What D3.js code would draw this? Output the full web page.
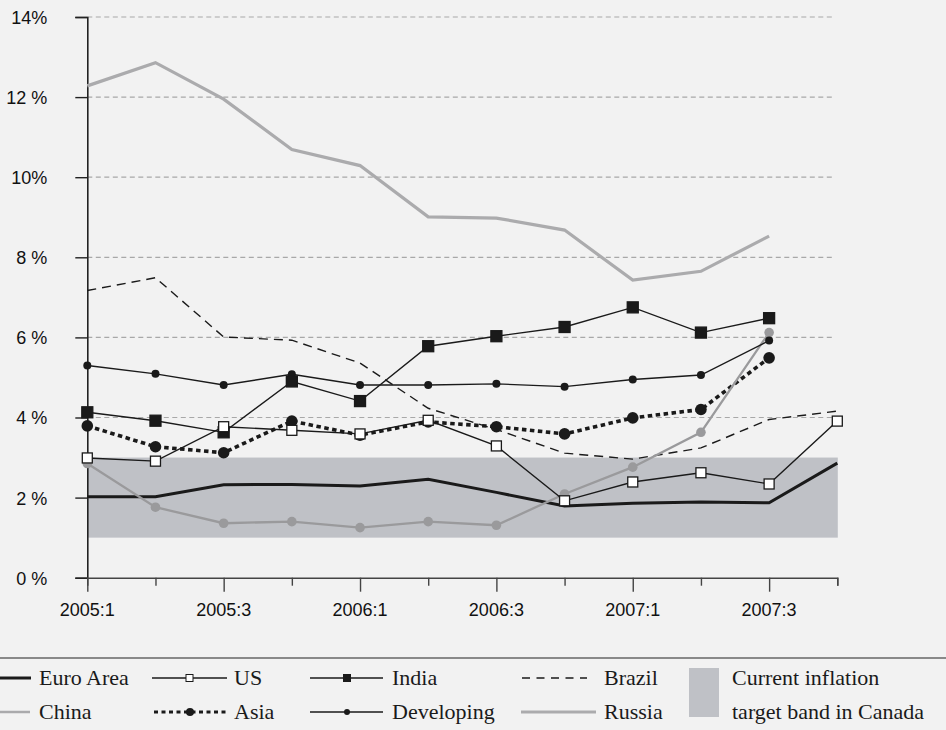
<!DOCTYPE html>
<html><head><meta charset="utf-8">
<script src="https://cdn.jsdelivr.net/npm/d3@7"></script>
<style>body{margin:0;background:#f2f2f2;} svg{display:block;}</style>
</head><body>
<svg id="c" width="946" height="730"></svg>
<script>
const quarters = ["2005:1","2005:2","2005:3","2005:4","2006:1","2006:2","2006:3","2006:4","2007:1","2007:2","2007:3","2007:4"];
const xTickLabels = ["2005:1","2005:3","2006:1","2006:3","2007:1","2007:3"];
const yTicks = [0,2,4,6,8,10,12,14];
const yTickLabels = ["0 %","2 %","4 %","6 %","8 %","10%","12 %","14%"];
const gridValues = [4,6,8,10,12,14];
const band = [1,3];

const euroArea   = [2.02,2.02,2.32,2.33,2.29,2.46,2.13,1.79,1.86,1.89,1.87,2.86];
const us         = [2.99,2.91,3.77,3.68,3.59,3.93,3.29,1.92,2.39,2.62,2.34,3.91];
const india      = [4.13,3.92,3.63,4.90,4.41,5.78,6.03,6.26,6.75,6.12,6.48,null];
const brazil     = [7.17,7.49,6.01,5.93,5.36,4.23,3.70,3.11,2.96,3.24,3.95,4.16];
const china      = [2.85,1.76,1.36,1.40,1.25,1.40,1.31,2.09,2.76,3.63,6.12,null];
const asia       = [3.79,3.27,3.12,3.91,3.56,3.89,3.77,3.59,3.99,4.20,5.49,null];
const developing = [5.30,5.09,4.81,5.08,4.81,4.81,4.84,4.77,4.95,5.06,5.92,null];
const russia     = [12.28,12.86,11.95,10.69,10.29,9.01,8.98,8.68,7.43,7.65,8.53,null];

const svg = d3.select("#c");
const x = d3.scalePoint().domain(quarters).range([87.3,837.3]);
const y = d3.scaleLinear().domain([0,14]).range([577.7,17]);

// band
svg.append("rect").attr("x",x(quarters[0])).attr("width",x(quarters[11])-x(quarters[0])+0.5)
  .attr("y",y(band[1])).attr("height",y(band[0])-y(band[1])).attr("fill","#bfc1c6");

// grid
svg.append("g").selectAll("line").data(gridValues).join("line")
  .attr("x1",x(quarters[0])).attr("x2",832).attr("y1",d=>y(d)).attr("y2",d=>y(d))
  .attr("stroke","#a8a8a8").attr("stroke-width",1.2).attr("stroke-dasharray","5,3.5");

// y axis
const yAx = svg.append("g").attr("transform",`translate(${x(quarters[0])},0)`)
  .call(d3.axisLeft(y).tickValues(yTicks).tickSize(12).tickFormat((d,i)=>yTickLabels[i]).tickPadding(28));
yAx.select(".domain").attr("stroke","#222").attr("stroke-width",1.6);
yAx.selectAll(".tick line").attr("stroke","#222").attr("stroke-width",1.4);
yAx.selectAll(".tick text").attr("font-family","Liberation Sans, Arial, sans-serif").attr("font-size",18).attr("fill","#111").attr("x",-40).attr("dy","0.36em");

// x axis
const xAx = svg.append("g").attr("transform",`translate(0,${y(0)})`)
  .call(d3.axisBottom(x).tickSize(8).tickFormat(""));
xAx.select(".domain").attr("stroke","#444").attr("stroke-width",1.4);
xAx.selectAll(".tick line").attr("stroke","#444").attr("stroke-width",1.4)
  .attr("y2",(d)=>xTickLabels.includes(d)?14:8);
svg.append("g").selectAll("text").data(xTickLabels).join("text")
  .attr("x",d=>x(d)).attr("y",615.5).attr("text-anchor","middle")
  .attr("font-family","Liberation Sans, Arial, sans-serif").attr("font-size",18).attr("fill","#111").text(d=>d);

function pts(arr){return quarters.map((q,i)=>({q,v:arr[i]})).filter(d=>d.v!=null);}
const lineLin = d3.line().x(d=>x(d.q)).y(d=>y(d.v));

function drawLine(arr,opts){
  svg.append("path").datum(pts(arr)).attr("d",lineLin)
    .attr("fill","none").attr("stroke",opts.color).attr("stroke-width",opts.w)
    .attr("stroke-dasharray",opts.dash||null).attr("stroke-linejoin","miter");
}
function drawDots(arr,r,fill){
  svg.append("g").selectAll("circle").data(pts(arr)).join("circle")
    .attr("cx",d=>x(d.q)).attr("cy",d=>y(d.v)).attr("r",r).attr("fill",fill);
}
function drawSquares(arr,s,fill,stroke){
  svg.append("g").selectAll("rect").data(pts(arr)).join("rect")
    .attr("x",d=>x(d.q)-s/2).attr("y",d=>y(d.v)-s/2).attr("width",s).attr("height",s)
    .attr("fill",fill).attr("stroke",stroke).attr("stroke-width",1.3);
}

drawLine(russia,{color:"#ababad",w:3.2});
drawLine(brazil,{color:"#1a1a1a",w:1.4,dash:"9,6"});
drawLine(euroArea,{color:"#1a1a1a",w:3});
drawLine(asia,{color:"#1a1a1a",w:3.6,dash:"4.5,3.5"});
drawDots(asia,5.8,"#1a1a1a");
drawLine(china,{color:"#9a9a9c",w:2.3});
drawDots(china,4.8,"#9a9a9c");
drawLine(developing,{color:"#1a1a1a",w:1.4});
drawDots(developing,4,"#1a1a1a");
drawLine(india,{color:"#1a1a1a",w:1.4});
drawSquares(india,11,"#1a1a1a","#1a1a1a");
drawLine(us,{color:"#1a1a1a",w:1.4});
drawSquares(us,10,"#ffffff","#1a1a1a");

// legend
svg.append("line").attr("x1",0).attr("x2",946).attr("y1",658).attr("y2",658).attr("stroke","#666").attr("stroke-width",1.6);
const lg = svg.append("g").attr("font-family","Liberation Serif, Times New Roman, serif").attr("font-size",22).attr("fill","#1a1a1a");
const r1=678, r2=712;
function lgLine(x1,x2,yy,c,w,dash){lg.append("line").attr("x1",x1).attr("x2",x2).attr("y1",yy).attr("y2",yy).attr("stroke",c).attr("stroke-width",w).attr("stroke-dasharray",dash||null);}
function lgText(xx,yy,t){lg.append("text").attr("x",xx).attr("y",yy+7).text(t);}
lgLine(0,31,r1,"#1a1a1a",3); lgText(39,r1,"Euro Area");
lgLine(152,227,r1,"#1a1a1a",1.3); lg.append("rect").attr("x",186).attr("y",r1-3.5).attr("width",7).attr("height",7).attr("fill","#fff").attr("stroke","#1a1a1a").attr("stroke-width",1); lgText(234,r1,"US");
lgLine(310,383,r1,"#1a1a1a",1.3); lg.append("rect").attr("x",343).attr("y",r1-4).attr("width",8).attr("height",8).attr("fill","#1a1a1a"); lgText(392,r1,"India");
lgLine(522,587,r1,"#1a1a1a",1.3,"8,6.5"); lgText(604,r1,"Brazil");
lgLine(0,30,r2,"#aaaaac",2.5); lgText(39,r2,"China");
lgLine(154,228,r2,"#1a1a1a",3,"4,3.5"); lg.append("circle").attr("cx",190).attr("cy",r2).attr("r",4).attr("fill","#1a1a1a"); lgText(234,r2,"Asia");
lgLine(310,383,r2,"#1a1a1a",1.3); lg.append("circle").attr("cx",347).attr("cy",r2).attr("r",3).attr("fill","#1a1a1a"); lgText(392,r2,"Developing");
lgLine(521,596,r2,"#ababad",3); lgText(604,r2,"Russia");
lg.append("rect").attr("x",689).attr("y",668).attr("width",30).attr("height",49).attr("fill","#bfc1c6");
lgText(732,r1,"Current inflation");
lgText(732,r2,"target band in Canada");
</script>
</body></html>
